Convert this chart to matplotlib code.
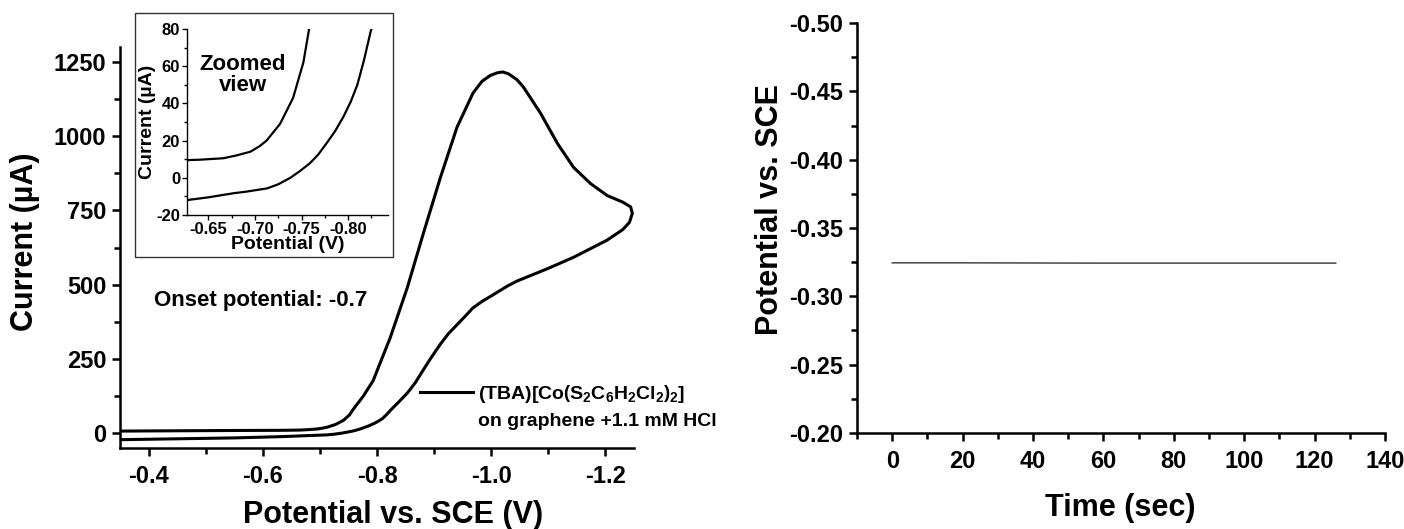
import matplotlib
matplotlib.use('Agg')
import matplotlib.pyplot as plt
from matplotlib.lines import Line2D
from matplotlib.patches import Rectangle
from matplotlib.ticker import FixedLocator, MultipleLocator, FormatStrFormatter

plt.rcParams['font.family'] = ['Liberation Sans', 'DejaVu Sans']
plt.rcParams['font.weight'] = 'bold'
plt.rcParams['axes.labelweight'] = 'bold'
plt.rcParams['axes.unicode_minus'] = False
plt.rcParams['mathtext.fontset'] = 'custom'
plt.rcParams['mathtext.rm'] = 'Liberation Sans:bold'
plt.rcParams['mathtext.it'] = 'Liberation Sans:bold'
plt.rcParams['mathtext.bf'] = 'Liberation Sans:bold'

# cyclic voltammogram: forward sweep to -1.25 V, then back
cv_potential = [-0.350, -0.450, -0.550, -0.627, -0.650, -0.677, -0.690, -0.713, -0.725,
                -0.738, -0.748, -0.759, -0.768, -0.777, -0.786, -0.795, -0.803, -0.810,
                -0.817, -0.824, -0.838, -0.853, -0.867, -0.880, -0.895, -0.911, -0.925,
                -0.940, -0.955, -0.968, -0.985, -1.000, -1.028, -1.045, -1.068, -1.100,
                -1.144, -1.203, -1.230, -1.242, -1.247,
                -1.244, -1.230, -1.203, -1.174, -1.144, -1.116, -1.086, -1.056,
                -1.045, -1.030, -1.020, -1.010, -0.998, -0.984, -0.968, -0.940, -0.911,
                -0.881, -0.853, -0.823, -0.793, -0.776, -0.758, -0.752, -0.741, -0.727,
                -0.7125, -0.705, -0.695, -0.680, -0.666, -0.640, -0.627, -0.550, -0.450,
                -0.350]
cv_current = [-22, -19, -16, -12, -10.5, -8.3, -7.5, -5.7, -3.5,
              0, 3.5, 7.8, 12.5, 18.6, 25, 32.8, 41, 50,
              63, 78, 105, 135, 170, 210, 255, 300, 335,
              365, 395, 422, 445, 462, 495, 512, 530, 555,
              592, 650, 685, 710, 740,
              762, 778, 800, 840, 895, 975, 1078, 1166,
              1190, 1210, 1216, 1213, 1204, 1185, 1145, 1030, 861,
              672, 490, 321, 176, 125, 79.5, 62, 43, 29,
              20, 17, 14, 12, 10.5, 9.7, 9.5, 9, 8,
              7]

# open-circuit potential over time
ocp_time = [0, 20, 40, 60, 80, 100, 126]
ocp_potential = [-0.3245, -0.3245, -0.3244, -0.3243, -0.3243, -0.3243, -0.3243]

main_xticks = [-0.4, -0.6, -0.8, -1.0, -1.2]
main_yticks = [0, 250, 500, 750, 1000, 1250]
inset_xticks = [-0.65, -0.70, -0.75, -0.80]
inset_yticks = [-20, 0, 20, 40, 60, 80]
ocp_xticks = [0, 20, 40, 60, 80, 100, 120, 140]
ocp_yticks = [-0.50, -0.45, -0.40, -0.35, -0.30, -0.25, -0.20]


def style_axes(ax, lw, major_len, minor_len, labelsize, pad):
    for side in ['top', 'right']:
        ax.spines[side].set_visible(False)
    for side in ['left', 'bottom']:
        ax.spines[side].set_linewidth(lw)
    ax.tick_params(which='major', direction='out', width=lw, length=major_len,
                   labelsize=labelsize, pad=pad)
    ax.tick_params(which='minor', direction='out', width=lw, length=minor_len)


fig = plt.figure(figsize=(14.04, 5.29), dpi=100)

# left: CV
ax = fig.add_axes([0.0855, 0.1531, 0.3661, 0.758])
ax.plot(cv_potential, cv_current, color='black', lw=2.2, solid_joinstyle='round')
ax.set_xlim(-0.35, -1.25)
ax.set_ylim(-50, 1300)
ax.xaxis.set_major_locator(FixedLocator(main_xticks))
ax.xaxis.set_minor_locator(FixedLocator([-0.5, -0.7, -0.9, -1.1]))
ax.xaxis.set_major_formatter(FormatStrFormatter('%.1f'))
ax.yaxis.set_major_locator(FixedLocator(main_yticks))
ax.yaxis.set_minor_locator(FixedLocator([125, 375, 625, 875, 1125]))
style_axes(ax, 1.8, 6, 4, 17, 4)
ax.tick_params(axis='x', pad=6)
ax.set_xlabel('Potential vs. SCE (V)', fontsize=22)
ax.set_ylabel('Current (µA)', fontsize=22)
ax.xaxis.set_label_coords(0.531, -0.13)
ax.yaxis.set_label_coords(-0.155, 0.514)

ax.text(-0.596, 446, 'Onset potential: -0.7', fontsize=16, ha='center', va='center')

handles = [Line2D([], [], color='black', lw=2.2), Line2D([], [], color='none')]
labels = [r'(TBA)[Co$\left(\mathrm{S_2C_6H_2Cl_2}\right)_2$]', 'on graphene +1.1 mM HCl']
ax.legend(handles, labels, loc='center left', bbox_to_anchor=(0.584, 0.103),
          frameon=False, fontsize=14, handlelength=2.7, handletextpad=0.25,
          borderpad=0, borderaxespad=0, labelspacing=0.4)

# inset: zoom on the onset region
fig.patches.append(Rectangle((0.0962, 0.5142), 0.1838, 0.4612, transform=fig.transFigure,
                             fill=False, edgecolor='#333333', lw=1.0))
ins = fig.add_axes([0.1332, 0.5936, 0.1432, 0.3516])
ins.plot(cv_potential, cv_current, color='black', lw=1.6, solid_joinstyle='round')
ins.set_xlim(-0.627, -0.843)
ins.set_ylim(-20, 80)
ins.xaxis.set_major_locator(FixedLocator(inset_xticks))
ins.xaxis.set_minor_locator(MultipleLocator(0.025))
ins.xaxis.set_major_formatter(FormatStrFormatter('%.2f'))
ins.yaxis.set_major_locator(FixedLocator(inset_yticks))
ins.yaxis.set_minor_locator(MultipleLocator(10))
style_axes(ins, 1.0, 3.5, 2, 12, 1.5)
ins.set_xlabel('Potential (V)', fontsize=14, labelpad=-1)
ins.set_ylabel('Current (µA)', fontsize=14, labelpad=0)
ins.text(-0.687, 55, 'Zoomed\nview', fontsize=16, ha='center', va='center', linespacing=1.0)

# right: open-circuit potential
ax2 = fig.add_axes([0.6104, 0.1815, 0.3761, 0.775])
ax2.plot(ocp_time, ocp_potential, color='#333333', lw=1.0)
ax2.set_xlim(-10, 140)
ax2.set_ylim(-0.20, -0.50)
ax2.xaxis.set_major_locator(FixedLocator(ocp_xticks))
ax2.xaxis.set_minor_locator(MultipleLocator(10))
ax2.yaxis.set_major_locator(FixedLocator(ocp_yticks))
ax2.yaxis.set_minor_locator(MultipleLocator(0.025))
ax2.yaxis.set_major_formatter(FormatStrFormatter('%.2f'))
style_axes(ax2, 1.8, 6, 4, 17, 4)
ax2.tick_params(axis='x', pad=6)
ax2.set_xlabel('Time (sec)', fontsize=22)
ax2.set_ylabel('Potential vs. SCE', fontsize=22)
ax2.xaxis.set_label_coords(0.498, -0.146)
ax2.yaxis.set_label_coords(-0.136, 0.544)

fig.savefig('out.png', dpi=100)
